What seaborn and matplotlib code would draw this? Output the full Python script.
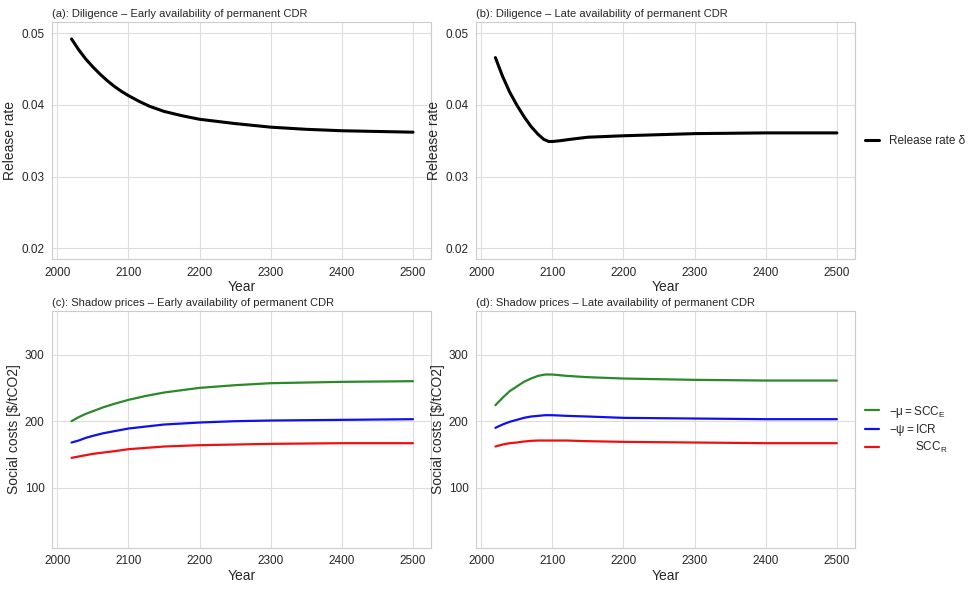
import numpy as np
import matplotlib
matplotlib.use('Agg')
import matplotlib.pyplot as plt
import seaborn as sns

# release rate, panels (a) and (b)
years_a = [2020, 2030, 2040, 2050, 2060, 2070, 2080, 2090, 2100, 2115, 2130, 2150, 2175, 2200, 2250, 2300, 2350, 2400, 2450, 2500]
rate_a = [0.0492, 0.0477, 0.0464, 0.0453, 0.0443, 0.0434, 0.0426, 0.0419, 0.0413, 0.0405, 0.0398, 0.0391, 0.0385, 0.0380, 0.0374, 0.0369, 0.0366, 0.0364, 0.0363, 0.0362]
years_b = [2020, 2030, 2040, 2050, 2060, 2070, 2080, 2088, 2095, 2100, 2110, 2125, 2150, 2200, 2300, 2400, 2500]
rate_b = [0.0466, 0.0440, 0.0418, 0.0400, 0.0384, 0.0370, 0.0359, 0.0352, 0.0349, 0.0349, 0.0350, 0.0352, 0.0355, 0.0357, 0.0360, 0.0361, 0.0361]

# shadow prices, panels (c) and (d)
years_c = [2020, 2030, 2040, 2050, 2065, 2080, 2100, 2125, 2150, 2200, 2250, 2300, 2400, 2500]
scce_c = [200, 206, 211, 215, 221, 226, 232, 238, 243, 250, 254, 257, 259, 260]
icr_c = [168, 171, 175, 178, 182, 185, 189, 192, 195, 198, 200, 201, 202, 203]
sccr_c = [145, 147, 149, 151, 153, 155, 158, 160, 162, 164, 165, 166, 167, 167]
years_d = [2020, 2030, 2040, 2050, 2060, 2070, 2080, 2090, 2100, 2120, 2150, 2200, 2300, 2400, 2500]
scce_d = [224, 235, 245, 252, 259, 264, 268, 270, 270, 268, 266, 264, 262, 261, 261]
icr_d = [190, 195, 199, 202, 205, 207, 208, 209, 209, 208, 207, 205, 204, 203, 203]
sccr_d = [162, 165, 167, 168, 169.5, 170.5, 171, 171, 171, 171, 170, 169, 168, 167, 167]

sns.set_style('whitegrid')
plt.rcParams['font.family'] = ['Liberation Sans', 'DejaVu Sans']
plt.rcParams['mathtext.fontset'] = 'custom'
plt.rcParams['mathtext.rm'] = 'Liberation Sans'
plt.rcParams['mathtext.it'] = 'Liberation Sans'
plt.rcParams['axes.edgecolor'] = '#cccccc'
plt.rcParams['grid.color'] = '#dddddd'

fig, axes = plt.subplots(2, 2, figsize=(9.69, 5.91), dpi=100)
fig.subplots_adjust(left=0.054, right=0.882, top=0.962, bottom=0.073, wspace=0.12, hspace=0.22)

titles = ['(a): Diligence \u2013 Early availability of permanent CDR',
          '(b): Diligence \u2013 Late availability of permanent CDR',
          '(c): Shadow prices \u2013 Early availability of permanent CDR',
          '(d): Shadow prices \u2013 Late availability of permanent CDR']

sns.lineplot(x=years_a, y=rate_a, ax=axes[0, 0], color='black', lw=2.2)
sns.lineplot(x=years_b, y=rate_b, ax=axes[0, 1], color='black', lw=2.2, label='Release rate \u03b4')
for ax in axes[0]:
    ax.set_ylim(0.0185, 0.0515)
    ax.set_yticks([0.02, 0.03, 0.04, 0.05])
    ax.set_ylabel('Release rate')

for ax, yrs, g, b, r in [(axes[1, 0], years_c, scce_c, icr_c, sccr_c),
                         (axes[1, 1], years_d, scce_d, icr_d, sccr_d)]:
    sns.lineplot(x=yrs, y=g, ax=ax, color='#2a8a2a', lw=1.6, label=r'$-\mu = \mathrm{SCC_E}$')
    sns.lineplot(x=yrs, y=b, ax=ax, color='#1010ee', lw=1.6, label=r'$-\psi = \mathrm{ICR}$')
    sns.lineplot(x=yrs, y=r, ax=ax, color='#ee1010', lw=1.6, label=r'$\qquad\ \ \mathrm{SCC_R}$')
    ax.set_ylim(10, 365)
    ax.set_yticks([100, 200, 300])
    ax.set_ylabel('Social costs [$/tCO2]')

for ax, t in zip(axes.flat, titles):
    ax.set_xlim(1993, 2525)
    ax.set_xticks(range(2000, 2501, 100))
    ax.set_xlabel('Year', fontsize=10, labelpad=1)
    ax.set_ylabel(ax.get_ylabel(), fontsize=10, labelpad=3)
    ax.tick_params(labelsize=8.5, pad=2)
    ax.set_title(t, fontsize=8, loc='left', pad=4)

axes[1, 0].get_legend().remove()
axes[0, 1].legend(loc='center left', bbox_to_anchor=(1.0, 0.5), frameon=False, fontsize=8.5, handlelength=1.2)
axes[1, 1].legend(loc='center left', bbox_to_anchor=(1.0, 0.5), frameon=False, fontsize=8.5, handlelength=1.2, labelspacing=0.2)

fig.savefig('out.png', dpi=100)
